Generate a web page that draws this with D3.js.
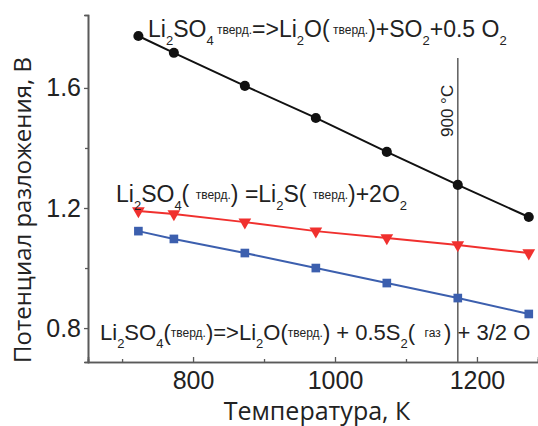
<!DOCTYPE html>
<html>
<head>
<meta charset="utf-8">
<script src="https://cdn.jsdelivr.net/npm/d3@7"></script>
<style>
  html, body { margin: 0; padding: 0; background: #fff; }
  svg { display: block; }
</style>
</head>
<body>
<svg id="chart" width="538" height="426"></svg>
<script>
// temperatures, K
const tempK = [723, 773, 873, 973, 1073, 1173, 1273];
// decomposition potential, V
const toSO2 = [1.773, 1.717, 1.607, 1.50, 1.387, 1.277, 1.17];
const toLi2S = [1.19, 1.18, 1.153, 1.123, 1.10, 1.077, 1.05];
const toS2 = [1.123, 1.097, 1.05, 1.0, 0.95, 0.90, 0.847];

const xMajor = [800, 1000, 1200];
const xMinor = [700, 900, 1100];
const yMajor = [0.8, 1.2, 1.6];
const yMinor = [1.0, 1.4];

const mark900 = 1173; // 900 °C in K

// reaction labels: [text, kind]  n = normal, s = subscript, m = small raised
const label1 = [["Li","n"],["2","s"],["SO","n"],["4","s"],[" тверд.","m"],["=>Li","n"],["2","s"],["O(","n"],[" тверд.","m"],[")+SO","n"],["2","s"],["+0.5 O","n"],["2","s"]];
const label2 = [["Li","n"],["2","s"],["SO","n"],["4","s"],["( ","n"],["тверд.","m"],[") =Li","n"],["2","s"],["S( ","n"],["тверд.","m"],[")+2O","n"],["2","s"]];
const label3 = [["Li","n"],["2","s"],["SO","n"],["4","s"],["(","n"],["тверд.","m"],[")=>Li","n"],["2","s"],["O(","n"],["тверд.","m"],[") + 0.5S","n"],["2","s"],["( ","n"],[" газ ","m"],[") + 3/2 O","n"]];

const svg = d3.select("#chart");

const x = d3.scaleLinear().domain([652, 1286]).range([88, 538]);
const y = d3.scaleLinear().domain([0.687, 1.843]).range([362, 15]);

const axisColor = "#5a5a5a";
const sansFont = "'Liberation Sans', Arial, sans-serif";

// axes
const gx = svg.append("g").attr("transform", "translate(0,362)")
  .call(d3.axisBottom(x).tickValues(xMajor).tickSize(-5).tickPadding(9).tickFormat(d3.format("d")));
const gxm = svg.append("g").attr("transform", "translate(0,362)")
  .call(d3.axisBottom(x).tickValues(xMinor).tickSize(-3).tickFormat(""));
const gy = svg.append("g").attr("transform", "translate(88,0)")
  .call(d3.axisLeft(y).tickValues(yMajor).tickSize(4).tickPadding(3).tickFormat(d3.format(".1f")));
const gym = svg.append("g").attr("transform", "translate(88,0)")
  .call(d3.axisLeft(y).tickValues(yMinor).tickSize(3).tickFormat(""));

[gx, gxm, gy, gym].forEach(g => {
  g.select(".domain").attr("stroke", axisColor).attr("stroke-width", 1.6);
  g.selectAll(".tick line").attr("stroke", axisColor).attr("stroke-width", 1.3);
  g.selectAll("text").attr("fill", "#222").style("font-family", sansFont).style("font-size", "25px");
});
gx.selectAll("text").attr("dy", "0.71em");

// 900 °C marker
svg.append("line")
  .attr("x1", x(mark900)).attr("x2", x(mark900))
  .attr("y1", y(1.70)).attr("y2", y(0.687))
  .attr("stroke", "#666").attr("stroke-width", 1.6);

svg.append("text")
  .attr("transform", `translate(${x(mark900) - 5},137) rotate(-90)`)
  .style("font-family", sansFont).style("font-size", "17px")
  .attr("fill", "#222")
  .text("900 °C");

// series
const series = [
  { values: toSO2, color: "#111111", shape: d3.symbolCircle, size: 80 },
  { values: toLi2S, color: "#f0302e", shape: d3.symbolTriangle, size: 70, flip: true },
  { values: toS2, color: "#3c5fae", shape: d3.symbolSquare, size: 75 }
];

const line = d3.line().x(d => x(d[0])).y(d => y(d[1]));

series.forEach(s => {
  const pts = tempK.map((t, i) => [t, s.values[i]]);
  svg.append("path")
    .attr("d", line(pts))
    .attr("fill", "none")
    .attr("stroke", s.color)
    .attr("stroke-width", 2);
  svg.selectAll(null).data(pts).enter().append("path")
    .attr("d", d3.symbol().type(s.shape).size(s.size))
    .attr("transform", d => `translate(${x(d[0])},${y(d[1])})` + (s.flip ? " rotate(180)" : ""))
    .attr("fill", s.color);
});

// reaction labels with sub/small parts
function drawLabel(parts, px, py, main) {
  const t = svg.append("text")
    .attr("x", px).attr("y", py)
    .attr("fill", "#222")
    .style("font-family", sansFont)
    .style("font-size", main + "px")
    .style("white-space", "pre");
  let shift = 0;
  parts.forEach(([str, kind]) => {
    const target = kind === "s" ? 8 : kind === "m" ? -3 : 0;
    const size = kind === "s" ? 13 : kind === "m" ? 12 : main;
    t.append("tspan")
      .attr("dy", target - shift)
      .style("font-size", size + "px")
      .text(str);
    shift = target;
  });
}

drawLabel(label1, 148, 37, 23);
drawLabel(label2, 116, 202, 23);
drawLabel(label3, 100, 340, 22);

// axis titles
svg.append("text")
  .attr("transform", "translate(31,210) rotate(-90)")
  .attr("text-anchor", "middle")
  .attr("fill", "#222")
  .style("font-family", "'Open Sans', sans-serif")
  .style("font-size", "24px")
  .text("Потенциал разложения, В");

svg.append("text")
  .attr("x", 317).attr("y", 420)
  .attr("text-anchor", "middle")
  .attr("fill", "#222")
  .style("font-family", "'Open Sans', sans-serif")
  .style("font-size", "25px")
  .text("Температура, К");
</script>
</body>
</html>
